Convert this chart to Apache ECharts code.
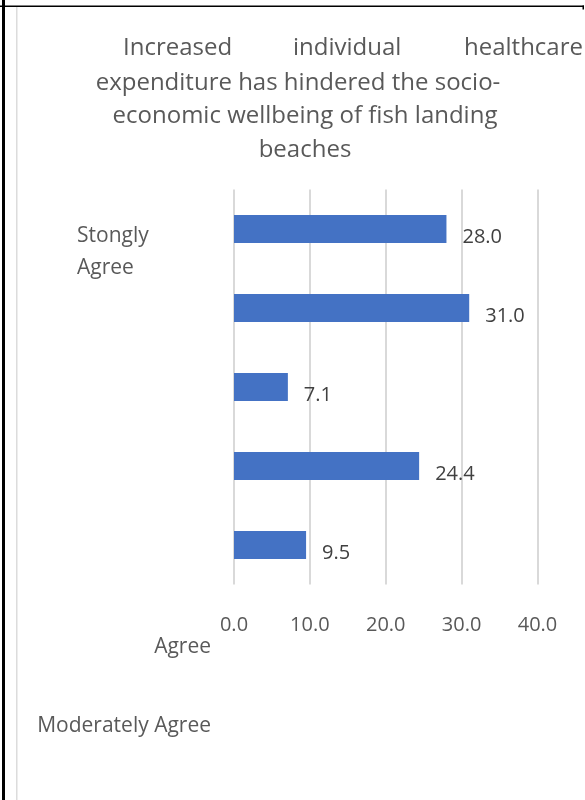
<!DOCTYPE html>
<html>
<head>
<meta charset="utf-8">
<style>
  html, body { margin: 0; padding: 0; background: #fff; }
  #chart { width: 585px; height: 800px; }
</style>
<script src="https://cdn.jsdelivr.net/npm/echarts@6/dist/echarts.min.js"></script>
</head>
<body>
<div id="chart"></div>
<script>
// Response shares, top to bottom
const barValues = [28.0, 31.0, 7.1, 24.4, 9.5];
const barSlots = ['1', '2', '3', '4', '5'];
const xTicks = [0, 10, 20, 30, 40];

// Title lines (first line is justified word by word)
const titleFirstLine = ['Increased', 'individual', 'healthcare'];
const titleRest = ['expenditure has hindered the socio-', 'economic wellbeing of fish landing', 'beaches'];

// Response category labels as they fall on the page
const categoryLabels = ['Stongly\nAgree', 'Agree', 'Moderately Agree'];

const FONT = 'Open Sans, Noto Sans, sans-serif';
const TEXT = '#595959';

const chart = echarts.init(document.getElementById('chart'), null, { renderer: 'canvas' });

const graphics = [
  // frame lines
  { type: 'rect', shape: { x: 2, y: 0, width: 3, height: 800 }, style: { fill: '#000' }, silent: true },
  { type: 'rect', shape: { x: 0, y: 5.5, width: 584, height: 1.5 }, style: { fill: '#000' }, silent: true },
  { type: 'rect', shape: { x: 582.5, y: 5.5, width: 1.5, height: 4 }, style: { fill: '#000' }, silent: true },
  { type: 'rect', shape: { x: 16, y: 7, width: 1.5, height: 793 }, style: { fill: '#dcdcdc' }, silent: true },
];
// title, first line justified
const firstX = [123, 293, 464];
titleFirstLine.forEach((t, i) => {
  graphics.push({ type: 'text', x: firstX[i], y: 48,
    style: { text: t, font: '24px ' + FONT, fill: TEXT, textVerticalAlign: 'middle' } });
});
const restX = [298, 305, 305];
const restY = [83, 116, 150];
titleRest.forEach((t, i) => {
  graphics.push({ type: 'text', x: restX[i], y: restY[i],
    style: { text: t, font: '24px ' + FONT, fill: TEXT, textAlign: 'center', textVerticalAlign: 'middle' } });
});
// category labels
graphics.push({ type: 'text', x: 77, y: 220, style: { text: categoryLabels[0], font: '21px ' + FONT, fill: TEXT, lineHeight: 32 } });
graphics.push({ type: 'text', x: 211, y: 647, style: { text: categoryLabels[1], font: '21px ' + FONT, fill: TEXT, textAlign: 'right', textVerticalAlign: 'middle' } });
graphics.push({ type: 'text', x: 211, y: 726, style: { text: categoryLabels[2], font: '21px ' + FONT, fill: TEXT, textAlign: 'right', textVerticalAlign: 'middle' } });

chart.setOption({
  animation: false,
  backgroundColor: '#fff',
  textStyle: { fontFamily: FONT },
  grid: { left: 234, right: 47.5, top: 189.5, bottom: 215.5, containLabel: false },
  xAxis: {
    type: 'value',
    min: xTicks[0],
    max: xTicks[xTicks.length - 1],
    interval: 10,
    axisLine: { show: false },
    axisTick: { show: false },
    splitLine: { show: true, lineStyle: { color: '#d9d9d9', width: 2 } },
    axisLabel: { color: TEXT, fontSize: 20, margin: 31, formatter: v => v.toFixed(1) }
  },
  yAxis: {
    type: 'category',
    inverse: true,
    data: barSlots,
    axisLine: { show: false },
    axisTick: { show: false },
    axisLabel: { show: false }
  },
  series: [{
    type: 'bar',
    data: barValues,
    barWidth: 28,
    itemStyle: { color: '#4472c4' },
    label: {
      show: true,
      position: 'right',
      distance: 16,
      offset: [0, 8],
      color: '#404040',
      fontSize: 20,
      formatter: p => p.value.toFixed(1)
    }
  }],
  graphic: graphics
});
</script>
</body>
</html>
